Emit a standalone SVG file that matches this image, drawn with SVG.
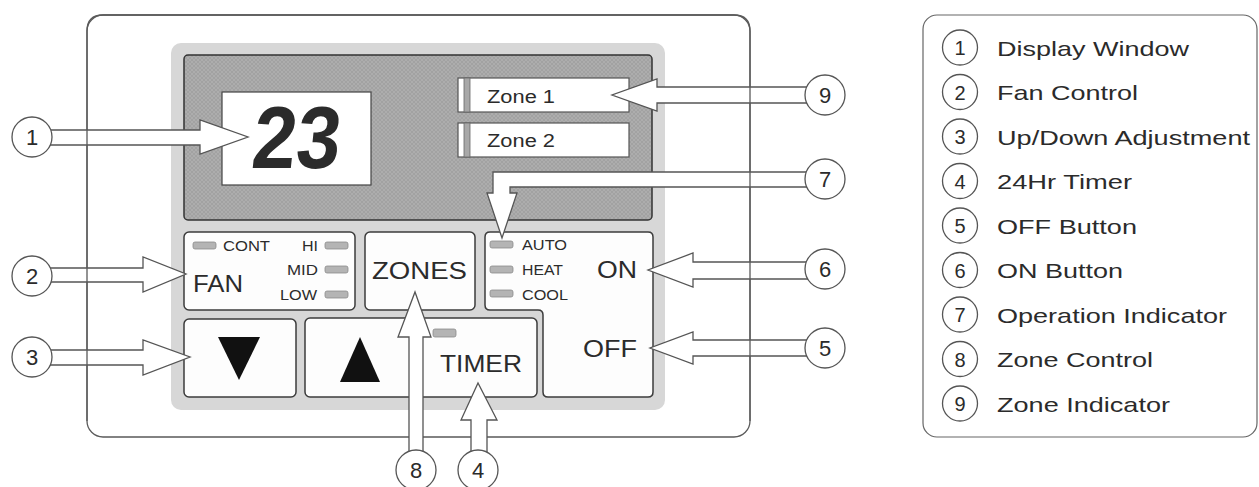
<svg xmlns="http://www.w3.org/2000/svg" width="1259" height="487" viewBox="0 0 1259 487">
<style>
  .t { font-family: "Liberation Sans", Arial, sans-serif; fill: #2b2b2b; }
  .btn { fill: #fdfdfd; stroke: #3c3c3c; stroke-width: 1.5; }
  .led { fill: #b4b4b4; stroke: #8a8a8a; stroke-width: 0.8; }
  .arrow { fill: #ffffff; stroke: #555555; stroke-width: 1.3; stroke-linejoin: miter; }
  .callout { fill: #ffffff; stroke: #555555; stroke-width: 1.3; }
  .line { fill: none; stroke: #5a5a5a; stroke-width: 1.3; }
</style>
<defs>
  <pattern id="hatch" width="4" height="4" patternUnits="userSpaceOnUse">
    <rect width="4" height="4" fill="#adadad"/>
    <path d="M0,4 L4,0 M0,0 L4,4" stroke="#9b9b9b" stroke-width="0.6"/>
  </pattern>
</defs>
<rect width="1259" height="487" fill="#ffffff"/>

<g id="housing">
  <rect x="87" y="15" width="663" height="422" rx="16" fill="#ffffff" stroke="#5a5a5a" stroke-width="1.3"/>
</g>

<g id="panel">
  <rect x="171" y="43" width="494" height="367" rx="10" fill="#d7d7d7"/>
</g>

<g id="display">
  <rect x="184" y="55" width="468" height="165" rx="4" fill="url(#hatch)" stroke="#333" stroke-width="1.5"/>
</g>

<g id="display-window">
  <rect x="222" y="92" width="149" height="93" fill="#ffffff" stroke="#444" stroke-width="1.2"/>
  <text class="t" transform="translate(250,168) skewX(-6)" x="0" y="0" font-size="88" font-weight="bold" textLength="88" lengthAdjust="spacingAndGlyphs" fill="#111">23</text>
</g>

<g id="zone1">
  <rect x="458" y="78" width="171" height="34" fill="#ffffff" stroke="#555" stroke-width="1.2"/>
  <rect x="464" y="78" width="6" height="34" fill="#a8a8a8" stroke="#666" stroke-width="0.8"/>
  <text class="t" x="487" y="103" font-size="18" textLength="68" lengthAdjust="spacingAndGlyphs">Zone 1</text>
</g>

<g id="zone2">
  <rect x="458" y="123" width="171" height="34" fill="#ffffff" stroke="#555" stroke-width="1.2"/>
  <rect x="464" y="123" width="6" height="34" fill="#a8a8a8" stroke="#666" stroke-width="0.8"/>
  <text class="t" x="487" y="147" font-size="18" textLength="68" lengthAdjust="spacingAndGlyphs">Zone 2</text>
</g>

<g id="fan">
  <rect class="btn" x="184" y="232" width="171" height="78" rx="5"/>
  <rect class="led" x="193" y="242" width="23" height="7" rx="2"/>
  <text class="t" x="223" y="251" font-size="14" textLength="47" lengthAdjust="spacingAndGlyphs">CONT</text>
  <text class="t" x="302" y="251" font-size="14" textLength="16" lengthAdjust="spacingAndGlyphs">HI</text>
  <rect class="led" x="325" y="242" width="23" height="7" rx="2"/>
  <text class="t" x="287" y="275" font-size="14" textLength="31" lengthAdjust="spacingAndGlyphs">MID</text>
  <rect class="led" x="325" y="266" width="23" height="7" rx="2"/>
  <text class="t" x="280" y="300" font-size="14" textLength="37" lengthAdjust="spacingAndGlyphs">LOW</text>
  <rect class="led" x="325" y="291" width="23" height="7" rx="2"/>
  <text class="t" x="193" y="292" font-size="23" textLength="50" lengthAdjust="spacingAndGlyphs">FAN</text>
</g>

<g id="zones">
  <rect class="btn" x="365" y="232" width="110" height="78" rx="5"/>
  <text class="t" x="372" y="279" font-size="23" textLength="95" lengthAdjust="spacingAndGlyphs">ZONES</text>
</g>

<g id="onoff">
  <path class="btn" d="M490,232 H648 Q653,232 653,237 V392 Q653,397 648,397 H548 Q543,397 543,392 V315 Q543,310 538,310 H490 Q485,310 485,305 V237 Q485,232 490,232 Z"/>
  <rect class="led" x="490" y="241" width="23" height="7" rx="2"/>
  <text class="t" x="522" y="250" font-size="14" textLength="45" lengthAdjust="spacingAndGlyphs">AUTO</text>
  <rect class="led" x="490" y="266" width="23" height="7" rx="2"/>
  <text class="t" x="522" y="275" font-size="14" textLength="41" lengthAdjust="spacingAndGlyphs">HEAT</text>
  <rect class="led" x="490" y="290" width="23" height="7" rx="2"/>
  <text class="t" x="522" y="300" font-size="14" textLength="46" lengthAdjust="spacingAndGlyphs">COOL</text>
  <text class="t" x="597" y="278" font-size="23" textLength="40" lengthAdjust="spacingAndGlyphs">ON</text>
  <text class="t" x="583" y="357" font-size="23" textLength="54" lengthAdjust="spacingAndGlyphs">OFF</text>
</g>

<g id="down">
  <rect class="btn" x="184" y="319" width="112" height="78" rx="5"/>
  <polygon points="218,337 260,337 239,380" fill="#111"/>
</g>

<g id="up-timer">
  <rect class="btn" x="305" y="318" width="232" height="79" rx="5"/>
  <polygon points="340,382 380,382 360,337" fill="#111"/>
  <rect class="led" x="433" y="329" width="23" height="8" rx="2"/>
  <text class="t" x="440" y="372" font-size="23" textLength="82" lengthAdjust="spacingAndGlyphs">TIMER</text>
</g>

<g id="connectors">
  <polygon class="arrow" points="32,130 200,130 200,120 248,137 200,154 200,145 32,145"/>
  <polygon class="arrow" points="32,268 143,268 143,257 186,274 143,292 143,282 32,282"/>
  <polygon class="arrow" points="32,350 143,350 143,340 190,357 143,375 143,365 32,365"/>
  <polygon class="arrow" points="825,87 657,87 657,79 612,95 657,111 657,103 825,103"/>
  <polygon class="arrow" points="825,172 493,172 493,193 487,193 502,238 517,193 510,193 510,187 825,187"/>
  <polygon class="arrow" points="825,262 693,262 693,253 648,270 693,287 693,279 825,279"/>
  <polygon class="arrow" points="825,340 693,340 693,332 650,348 693,364 693,356 825,356"/>
  <polygon class="arrow" points="409,470 409,337 398,337 415,292 431,337 423,337 423,470"/>
  <polygon class="arrow" points="471,470 471,420 461,420 478,383 497,420 487,420 487,470"/>
</g>

<g id="housing-outline">
  <path class="line" d="M87,421 V31 Q87,15 103,15 H734 Q750,15 750,31 V421"/>
</g>

<g id="callout-1"><circle class="callout" cx="32" cy="137" r="20"/><text class="t" x="32" y="145" font-size="22" text-anchor="middle">1</text></g>
<g id="callout-2"><circle class="callout" cx="32" cy="276" r="20"/><text class="t" x="32" y="284" font-size="22" text-anchor="middle">2</text></g>
<g id="callout-3"><circle class="callout" cx="32" cy="357" r="20"/><text class="t" x="32" y="365" font-size="22" text-anchor="middle">3</text></g>
<g id="callout-9"><circle class="callout" cx="825" cy="95" r="20"/><text class="t" x="825" y="103" font-size="22" text-anchor="middle">9</text></g>
<g id="callout-7"><circle class="callout" cx="825" cy="179" r="20"/><text class="t" x="825" y="187" font-size="22" text-anchor="middle">7</text></g>
<g id="callout-6"><circle class="callout" cx="825" cy="269" r="20"/><text class="t" x="825" y="277" font-size="22" text-anchor="middle">6</text></g>
<g id="callout-5"><circle class="callout" cx="825" cy="348" r="20"/><text class="t" x="825" y="356" font-size="22" text-anchor="middle">5</text></g>
<g id="callout-8"><circle class="callout" cx="416" cy="470" r="20"/><text class="t" x="416" y="478" font-size="22" text-anchor="middle">8</text></g>
<g id="callout-4"><circle class="callout" cx="478" cy="470" r="20"/><text class="t" x="478" y="478" font-size="22" text-anchor="middle">4</text></g>

<g id="legend">
  <rect x="923" y="15" width="334" height="422" rx="14" fill="#ffffff" stroke="#666" stroke-width="1.2"/>
  <circle class="callout" cx="960" cy="47.5" r="17.5"/><text class="t" x="960" y="55" font-size="20" text-anchor="middle">1</text>
  <text class="t" x="997" y="55.5" font-size="21" textLength="192" lengthAdjust="spacingAndGlyphs">Display Window</text>
  <circle class="callout" cx="960" cy="92" r="17.5"/><text class="t" x="960" y="99.5" font-size="20" text-anchor="middle">2</text>
  <text class="t" x="997" y="100" font-size="21" textLength="141" lengthAdjust="spacingAndGlyphs">Fan Control</text>
  <circle class="callout" cx="960" cy="136.5" r="17.5"/><text class="t" x="960" y="144" font-size="20" text-anchor="middle">3</text>
  <text class="t" x="997" y="144.5" font-size="21" textLength="253" lengthAdjust="spacingAndGlyphs">Up/Down Adjustment</text>
  <circle class="callout" cx="960" cy="181" r="17.5"/><text class="t" x="960" y="188.5" font-size="20" text-anchor="middle">4</text>
  <text class="t" x="997" y="189" font-size="21" textLength="135" lengthAdjust="spacingAndGlyphs">24Hr Timer</text>
  <circle class="callout" cx="960" cy="225.5" r="17.5"/><text class="t" x="960" y="233" font-size="20" text-anchor="middle">5</text>
  <text class="t" x="997" y="233.5" font-size="21" textLength="140" lengthAdjust="spacingAndGlyphs">OFF Button</text>
  <circle class="callout" cx="960" cy="270" r="17.5"/><text class="t" x="960" y="277.5" font-size="20" text-anchor="middle">6</text>
  <text class="t" x="997" y="278" font-size="21" textLength="126" lengthAdjust="spacingAndGlyphs">ON Button</text>
  <circle class="callout" cx="960" cy="314.5" r="17.5"/><text class="t" x="960" y="322" font-size="20" text-anchor="middle">7</text>
  <text class="t" x="997" y="322.5" font-size="21" textLength="230" lengthAdjust="spacingAndGlyphs">Operation Indicator</text>
  <circle class="callout" cx="960" cy="359" r="17.5"/><text class="t" x="960" y="366.5" font-size="20" text-anchor="middle">8</text>
  <text class="t" x="997" y="367" font-size="21" textLength="156" lengthAdjust="spacingAndGlyphs">Zone Control</text>
  <circle class="callout" cx="960" cy="403.5" r="17.5"/><text class="t" x="960" y="411" font-size="20" text-anchor="middle">9</text>
  <text class="t" x="997" y="411.5" font-size="21" textLength="173" lengthAdjust="spacingAndGlyphs">Zone Indicator</text>
</g>
</svg>
